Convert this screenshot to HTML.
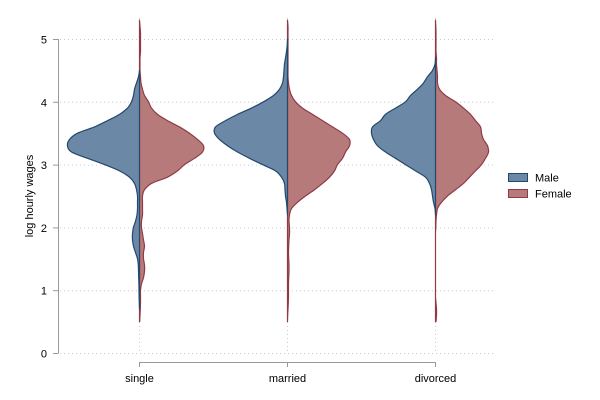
<!DOCTYPE html>
<html><head><meta charset="utf-8"><style>
html,body{margin:0;padding:0;background:#fff}
svg{display:block;font-family:"Liberation Sans",Arial,sans-serif}
</style></head><body>
<svg id="chart" width="600" height="400" xmlns="http://www.w3.org/2000/svg">
<g id="grid"></g>
<g id="violins"></g>
<g id="axes"></g>
<text x="33" y="196" transform="rotate(-90 33 196)" text-anchor="middle" font-size="11" fill="#000">log hourly wages</text>
<g>
<g><rect x="508.5" y="173.5" width="19" height="8" fill="#6b89a6" stroke="#24476b"/><text x="535" y="181.5" font-size="11">Male</text></g>
<g><rect x="508.5" y="189.5" width="19" height="8" fill="#b77a7b" stroke="#8f3b45"/><text x="535" y="197.5" font-size="11">Female</text></g>
</g>
</svg>
<script>
const categories = ["single","married","divorced"];
const yTicks = [0,1,2,3,4,5];
const gridStart = 0.5, gridStep = 0.1;
// density values on grid 0.5..5.3 step 0.1
const singleMale = [0,0,0,0.002,0.004,0.005,0.006,0.008,0.01,0.012,0.02,0.04,0.06,0.07,0.07,0.06,0.04,0.025,0.02,0.02,0.02,0.03,0.05,0.1,0.2,0.35,0.52,0.68,0.72,0.7,0.62,0.45,0.32,0.2,0.12,0.08,0.06,0.05,0.03,0.01,0,0,0,0,0,0,0,0,0];
const singleFemale = [0.002,0.005,0.008,0.01,0.01,0.01,0.02,0.04,0.05,0.05,0.04,0.04,0.05,0.04,0.03,0.02,0.02,0.03,0.03,0.03,0.03,0.05,0.12,0.28,0.38,0.45,0.55,0.63,0.64,0.58,0.5,0.4,0.28,0.18,0.12,0.09,0.05,0.03,0.015,0.01,0.005,0.005,0.005,0.01,0.01,0.01,0.01,0.005,0];
const marriedMale = [0,0,0,0,0,0,0,0,0,0,0,0,0,0,0,0,0,0,0.005,0.01,0.02,0.025,0.03,0.06,0.12,0.25,0.38,0.5,0.6,0.68,0.73,0.72,0.62,0.5,0.36,0.24,0.14,0.08,0.05,0.04,0.035,0.03,0.02,0.01,0.003,0,0,0,0];
const marriedFemale = [0,0.002,0.005,0.008,0.01,0.01,0.01,0.012,0.015,0.015,0.012,0.01,0.012,0.015,0.02,0.02,0.015,0.02,0.04,0.1,0.18,0.27,0.35,0.42,0.47,0.5,0.55,0.58,0.62,0.62,0.55,0.45,0.35,0.25,0.15,0.08,0.04,0.02,0.01,0.005,0.005,0.005,0.005,0.005,0.005,0.005,0.005,0.005,0];
const divorcedMale = [0,0,0,0,0,0,0,0,0,0,0,0,0,0,0,0,0,0,0.005,0.02,0.03,0.04,0.06,0.1,0.2,0.3,0.4,0.5,0.58,0.62,0.64,0.63,0.55,0.5,0.4,0.3,0.25,0.18,0.12,0.08,0.03,0.005,0,0,0,0,0,0,0];
const divorcedFemale = [0.005,0.01,0.01,0.005,0,0,0,0,0,0,0,0,0,0,0,0.003,0.005,0.01,0.02,0.06,0.12,0.2,0.28,0.34,0.4,0.46,0.5,0.53,0.52,0.48,0.46,0.45,0.4,0.35,0.28,0.2,0.1,0.04,0.02,0.02,0.015,0.01,0.01,0.005,0.005,0.005,0.005,0.003,0];
const maleSeries = [singleMale, marriedMale, divorcedMale];
const femaleSeries = [singleFemale, marriedFemale, divorcedFemale];

const NS="http://www.w3.org/2000/svg";
const yScale = v => 353 - 62.8*v;
const xScale = i => 139 + i*148;
const wScale = d => d*100;
function mk(tag, attrs, parent){const e=document.createElementNS(NS,tag);for(const k in attrs)e.setAttribute(k,attrs[k]);parent.appendChild(e);return e;}
const grid=document.getElementById('grid'), axes=document.getElementById('axes'), vg=document.getElementById('violins');
yTicks.forEach(t=>{
  const y=yScale(t)+0.5;
  const l=mk('line',{x1:60,x2:495,y1:y,y2:y,stroke:'#ccc','stroke-dasharray':'1 3'},grid);
  
  
  const tk=mk('line',{x1:53,x2:58,y1:y,y2:y,stroke:'#999'},axes);
  
  
  const tx=mk('text',{x:47,y:y+4,'text-anchor':'end','font-size':11},axes);
  tx.textContent=t;
  
  
});
categories.forEach((c,i)=>{
  const x=xScale(i)+0.5;
  const l=mk('line',{x1:x,x2:x,y1:18,y2:352,stroke:'#ccc','stroke-dasharray':'1 3'},grid);
  
  
  const tk=mk('line',{x1:x,x2:x,y1:362,y2:367,stroke:'#999'},axes);
  
  
  const tx=mk('text',{x:x,y:382,'text-anchor':'middle','font-size':11},axes);
  tx.textContent=c;
  
  
});
const ya=mk('line',{x1:58.5,x2:58.5,y1:yScale(5),y2:yScale(0)+0.5,stroke:'#999'},axes);


const xa=mk('line',{x1:xScale(0),x2:xScale(2)+1,y1:362.5,y2:362.5,stroke:'#999'},axes);



function smoothPath(pts){
  let d='M'+pts[0][0].toFixed(2)+','+pts[0][1].toFixed(2);
  for(let i=0;i<pts.length-1;i++){
    const p0=pts[Math.max(0,i-1)],p1=pts[i],p2=pts[i+1],p3=pts[Math.min(pts.length-1,i+2)];
    const c1=[p1[0]+(p2[0]-p0[0])/6,p1[1]+(p2[1]-p0[1])/6];
    const c2=[p2[0]-(p3[0]-p1[0])/6,p2[1]-(p3[1]-p1[1])/6];
    d+=' C'+c1[0].toFixed(2)+','+c1[1].toFixed(2)+' '+c2[0].toFixed(2)+','+c2[1].toFixed(2)+' '+p2[0].toFixed(2)+','+p2[1].toFixed(2);
  }
  return d;
}
function half(arr, i, side, fill, stroke, name){
  let a=0,b=arr.length-1;
  while(a<b && arr[a]===0 && arr[a+1]===0) a++;
  while(b>a && arr[b]===0 && arr[b-1]===0) b--;
  const cx=xScale(i)+0.5;
  const pts=[];
  for(let k=a;k<=b;k++){pts.push([cx+side*wScale(arr[k]), yScale(gridStart+k*gridStep)]);}
  const d=smoothPath(pts)+' L'+cx+','+yScale(gridStart+b*gridStep)+' L'+cx+','+yScale(gridStart+a*gridStep)+' Z';
  const p=mk('path',{d:d,fill:fill,stroke:stroke,'stroke-width':1.2,'stroke-linejoin':'round'},vg);
  
  
}
categories.forEach((c,i)=>{
  half(femaleSeries[i],i,1,'#b77a7b','#8f3b45','violin-female-'+c);
  half(maleSeries[i],i,-1,'#6b89a6','#24476b','violin-male-'+c);
});
</script>
</body></html>
